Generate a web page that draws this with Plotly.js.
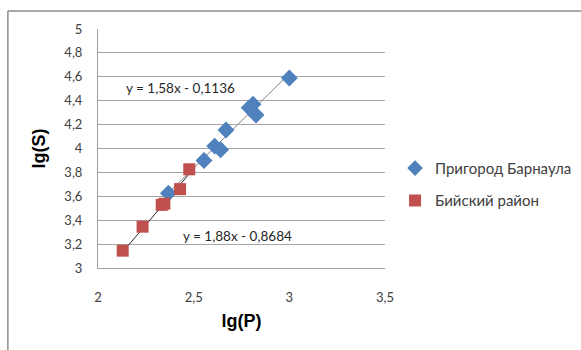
<!DOCTYPE html>
<html>
<head>
<meta charset="utf-8">
<script src="https://cdn.plot.ly/plotly-3.0.1.min.js"></script>
<style>html,body{margin:0;padding:0;background:#fff}#chart{width:581px;height:350px}</style>
</head>
<body>
<div id="chart"></div>
<script>
const seriesNames = ["Пригород Барнаула", "Бийский район"];
const barnaulX = [3.00, 2.79, 2.81, 2.826, 2.669, 2.61, 2.641, 2.554, 2.368];
const barnaulY = [4.59, 4.34, 4.37, 4.28, 4.155, 4.02, 3.99, 3.90, 3.625];
const biyskX = [2.477, 2.429, 2.333, 2.347, 2.233, 2.129];
const biyskY = [3.826, 3.66, 3.528, 3.538, 3.346, 3.145];
const trendSlope = [1.58, 1.88];
const trendIntercept = [-0.1136, -0.8684];
const trendXRange = [[2.368, 3.00], [2.129, 2.477]];
const trendLabels = ["y = 1,58x - 0,1136", "y = 1,88x - 0,8684"];
const xTicks = [2, 2.5, 3, 3.5];
const yTicks = [3, 3.2, 3.4, 3.6, 3.8, 4, 4.2, 4.4, 4.6, 4.8, 5];

const font = "Lato, 'Open Sans', sans-serif";
const titleFont = "'Liberation Sans', Arial, sans-serif";
const trendColors = ["#7f7f7f", "#262626"];
const traces = [];
trendXRange.forEach((r, i) => {
  traces.push({
    x: r, y: r.map(v => trendSlope[i] * v + trendIntercept[i]),
    mode: "lines", line: {color: trendColors[i], width: 1}, showlegend: false, hoverinfo: "skip"
  });
});
traces.push({
  x: barnaulX, y: barnaulY, mode: "markers", name: seriesNames[0], legendgroup: "a",
  marker: {symbol: "diamond", size: 13, color: "#4F81BD"}
});
traces.push({
  x: biyskX, y: biyskY, mode: "markers", name: seriesNames[1], legendgroup: "b",
  marker: {symbol: "square", size: 12, color: "#C0504D"}
});

const layout = {
  width: 581, height: 350,
  margin: {l: 98, r: 196, t: 29, b: 82, pad: 0, autoexpand: false},
  paper_bgcolor: "#fff", plot_bgcolor: "#fff",
  separators: ", ",
  font: {family: font, size: 13, color: "#404040"},
  showlegend: true,
  legend: {x: 1.035, y: 0.35, xanchor: "left", yanchor: "middle", font: {size: 15, color: "#404040"}, tracegroupgap: 10, itemwidth: 30, itemsizing: "constant"},
  xaxis: {
    range: [2, 3.5], tickvals: xTicks, showgrid: false, zeroline: false, automargin: false,
    showline: true, linecolor: "#a0a0a0", linewidth: 1, ticks: "", ticklabelstandoff: 17,
    title: {text: "<b>lg(P)</b>", font: {size: 18, color: "#000", family: titleFont}, standoff: 10},
    tickfont: {size: 13, color: "#404040"}
  },
  yaxis: {
    range: [3, 5], tickvals: yTicks, showgrid: true, gridcolor: "#a6a6a6", gridwidth: 1, zeroline: false, automargin: false,
    showline: true, linecolor: "#a0a0a0", linewidth: 1, ticks: "", ticklabelstandoff: 12,
    title: {text: "<b>lg(S)</b>", font: {size: 18, color: "#000", family: titleFont}, standoff: 14},
    tickfont: {size: 13, color: "#404040"}
  },
  annotations: [
    {x: 2.43, y: 4.51, xref: "x", yref: "y", text: trendLabels[0], showarrow: false, font: {size: 13.5, color: "#262626"}},
    {x: 2.727, y: 3.27, xref: "x", yref: "y", text: trendLabels[1], showarrow: false, font: {size: 13.5, color: "#262626"}}
  ],
  shapes: [
    {type: "line", xref: "paper", yref: "paper", x0: -0.314, x1: 1.7, y0: 1.075, y1: 1.075, line: {color: "#8c8c8c", width: 1.5}},
    {type: "line", xref: "paper", yref: "paper", x0: -0.314, x1: -0.314, y0: 1.075, y1: -0.35, line: {color: "#8c8c8c", width: 1.5}}
  ]
};
Plotly.newPlot("chart", traces, layout, {displayModeBar: false, staticPlot: true});
</script>
</body>
</html>
